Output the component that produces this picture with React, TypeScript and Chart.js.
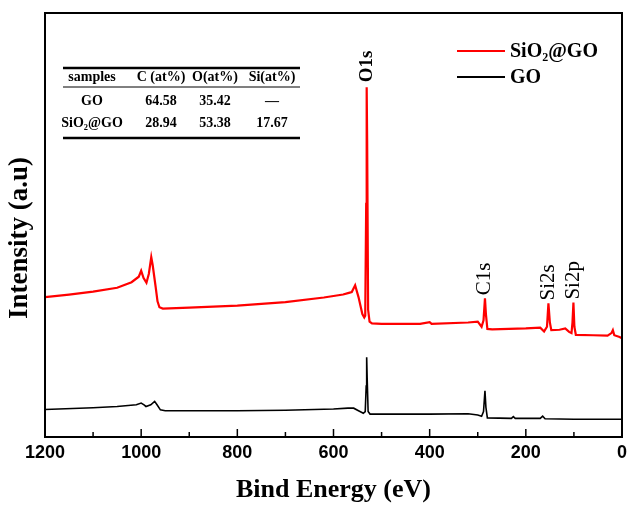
import React, { useEffect, useRef } from "react";
import { Chart, registerables } from "chart.js";

Chart.register(...registerables);

// ---- data ----
const redEnergy = [1200, 1150, 1100, 1050, 1020, 1005, 1000, 995, 989, 984, 979, 976, 970, 966, 962, 955, 900, 800, 700, 620, 580, 568, 562, 555, 548, 540, 536, 534, 532, 531, 530, 528, 525, 520, 500, 420, 400, 396, 320, 300, 292, 288, 285, 283, 280, 270, 200, 170, 162, 156, 153, 150, 147, 130, 118, 110, 105, 103, 101, 99, 96, 60, 30, 22, 19, 16, 5, 0];
const redIntensity = [33.0, 33.6, 34.3, 35.2, 36.5, 37.8, 39.2, 37.5, 36.4, 38.5, 42.4, 40.5, 35.5, 32.0, 30.6, 30.3, 30.5, 31.0, 31.8, 32.9, 33.6, 34.0, 34.2, 35.8, 33.0, 29.0, 28.2, 28.6, 55.0, 82.5, 70.0, 30.0, 27.2, 26.8, 26.7, 26.7, 27.1, 26.7, 27.0, 27.2, 26.0, 27.5, 32.7, 29.0, 25.5, 25.4, 25.6, 25.8, 24.9, 26.0, 31.5, 27.0, 25.2, 25.3, 25.6, 24.8, 24.5, 27.0, 31.7, 26.0, 24.1, 24.0, 23.9, 24.5, 25.2, 24.0, 23.6, 23.3];

const goEnergy = [1200, 1100, 1050, 1010, 1000, 994, 990, 980, 972, 967, 960, 950, 800, 700, 600, 570, 558, 548, 538, 534, 532, 531, 530, 528, 524, 400, 320, 300, 292, 288, 285, 283, 280, 230, 226, 222, 170, 165, 160, 100, 0];
const goIntensity = [6.5, 6.9, 7.2, 7.6, 8.0, 7.6, 7.2, 7.6, 8.4, 7.6, 6.4, 6.2, 6.2, 6.3, 6.6, 6.8, 6.8, 6.2, 5.6, 6.0, 12.0, 18.8, 14.0, 6.0, 5.4, 5.4, 5.5, 5.2, 4.9, 6.0, 10.9, 7.0, 4.5, 4.4, 4.8, 4.4, 4.4, 4.9, 4.3, 4.2, 4.2];

const seriesNames = ["SiO\u2082@GO", "GO"];
const seriesColors = ["#ff0000", "#000000"];

const peakNames = ["O1s", "C1s", "Si2s", "Si2p"];
const peakEnergies = [531, 285, 153, 101];
const peakHeights = [82.5, 32.7, 31.5, 31.7];
const peakBold = [true, false, false, false];

const tableHeader = ["samples", "C (at%)", "O(at%)", "Si(at%)"];
const tableRows = [
  ["GO", "64.58", "35.42", "\u2014"],
  ["SiO\u2082@GO", "28.94", "53.38", "17.67"],
];

const xTitle = "Bind Energy (eV)";
const yTitle = "Intensity (a.u)";

const SERIF = "'Liberation Serif', 'Times New Roman', serif";
const SANS = "'Liberation Sans', Arial, sans-serif";

const overlayPlugin = {
  id: "overlay",
  afterDraw(chart: any) {
    const ctx = chart.ctx;
    const { left, right, top, bottom } = chart.chartArea;
    const xs = chart.scales.x;
    const ys = chart.scales.y;
    ctx.save();

    // frame
    ctx.strokeStyle = "#000";
    ctx.lineWidth = 2;
    ctx.strokeRect(left, top, right - left, bottom - top);

    // inward ticks
    ctx.lineWidth = 1.5;
    xs.ticks.forEach((t: any) => {
      const px = xs.getPixelForValue(t.value);
      const len = t.value % 200 === 0 ? 8 : 5;
      ctx.beginPath();
      ctx.moveTo(px, bottom);
      ctx.lineTo(px, bottom - len);
      ctx.stroke();
    });

    // peak labels
    ctx.fillStyle = "#000";
    peakNames.forEach((name, i) => {
      const px = xs.getPixelForValue(peakEnergies[i]);
      const py = ys.getPixelForValue(peakHeights[i]);
      ctx.save();
      ctx.translate(px, py - (peakBold[i] ? 5 : 3));
      ctx.rotate(-Math.PI / 2);
      ctx.font = `${peakBold[i] ? "bold 19px" : "21px"} ${SERIF}`;
      ctx.textAlign = "left";
      ctx.textBaseline = "middle";
      ctx.fillText(name, 0, 0);
      ctx.restore();
    });

    // legend
    const legX = 457, legY = 51, legGap = 26;
    seriesNames.forEach((n, i) => {
      const y = legY + i * legGap;
      ctx.strokeStyle = seriesColors[i];
      ctx.lineWidth = 2;
      ctx.beginPath();
      ctx.moveTo(legX, y);
      ctx.lineTo(legX + 48, y);
      ctx.stroke();
      ctx.fillStyle = "#000";
      ctx.font = `bold 20px ${SERIF}`;
      ctx.textAlign = "left";
      ctx.textBaseline = "middle";
      ctx.fillText(n, legX + 53, y + 1);
    });

    // table
    const tL = 63, tR = 300;
    const colX = [92, 161, 215, 272];
    ctx.strokeStyle = "#000";
    ctx.lineWidth = 2.5;
    ctx.beginPath();
    ctx.moveTo(tL, 68); ctx.lineTo(tR, 68);
    ctx.moveTo(tL, 138); ctx.lineTo(tR, 138);
    ctx.stroke();
    ctx.lineWidth = 1;
    ctx.beginPath();
    ctx.moveTo(tL, 87); ctx.lineTo(tR, 87);
    ctx.stroke();
    ctx.fillStyle = "#000";
    ctx.font = `bold 14px ${SERIF}`;
    ctx.textAlign = "center";
    ctx.textBaseline = "middle";
    tableHeader.forEach((h, i) => ctx.fillText(h, colX[i], 77));
    tableRows.forEach((row, r) => {
      row.forEach((c, i) => ctx.fillText(c, colX[i], 101 + r * 22));
    });

    // y title
    ctx.save();
    ctx.translate(20, 238);
    ctx.rotate(-Math.PI / 2);
    ctx.font = `bold 27px ${SERIF}`;
    ctx.textAlign = "center";
    ctx.textBaseline = "middle";
    ctx.fillText(yTitle, 0, 0);
    ctx.restore();

    ctx.restore();
  },
};

export default function App() {
  const ref = useRef<HTMLCanvasElement | null>(null);
  useEffect(() => {
    if (!ref.current) return;
    const chart = new Chart(ref.current, {
      type: "line",
      data: {
        datasets: [
          {
            label: seriesNames[0],
            data: redEnergy.map((e, i) => ({ x: e, y: redIntensity[i] })),
            borderColor: seriesColors[0],
            borderWidth: 2.2,
            pointRadius: 0,
            tension: 0,
            fill: false,
          },
          {
            label: seriesNames[1],
            data: goEnergy.map((e, i) => ({ x: e, y: goIntensity[i] })),
            borderColor: seriesColors[1],
            borderWidth: 1.6,
            pointRadius: 0,
            tension: 0,
            fill: false,
          },
        ],
      },
      options: {
        responsive: false,
        animation: false,
        layout: { padding: { top: 13, right: 7, left: 0, bottom: 0 } },
        plugins: { legend: { display: false }, tooltip: { enabled: false } },
        scales: {
          x: {
            type: "linear",
            reverse: true,
            min: 0,
            max: 1200,
            grid: { display: false, drawTicks: false },
            border: { display: false },
            ticks: {
              stepSize: 100,
              autoSkip: false,
              maxRotation: 0,
              padding: 5,
              color: "#000",
              font: { family: SANS, size: 18, weight: "bold" },
              callback: (v: any) => (Number(v) % 200 === 0 ? String(v) : ""),
            },
            title: {
              display: true,
              text: xTitle,
              color: "#000",
              font: { family: SERIF, size: 26, weight: "bold" },
              padding: { top: 0, bottom: 1 },
            },
            afterFit: (s: any) => {
              s.height = 70;
            },
          },
          y: {
            type: "linear",
            min: 0,
            max: 100,
            grid: { display: false, drawTicks: false },
            border: { display: false },
            ticks: { display: false },
            afterFit: (s: any) => {
              s.width = 45;
            },
          },
        },
      },
      plugins: [overlayPlugin],
    } as any);
    return () => chart.destroy();
  }, []);
  return (
    <div style={{ position: "fixed", left: 0, top: 0, width: 632, height: 507, background: "#fff" }}>
      <canvas ref={ref} width={632} height={507} />
    </div>
  );
}
